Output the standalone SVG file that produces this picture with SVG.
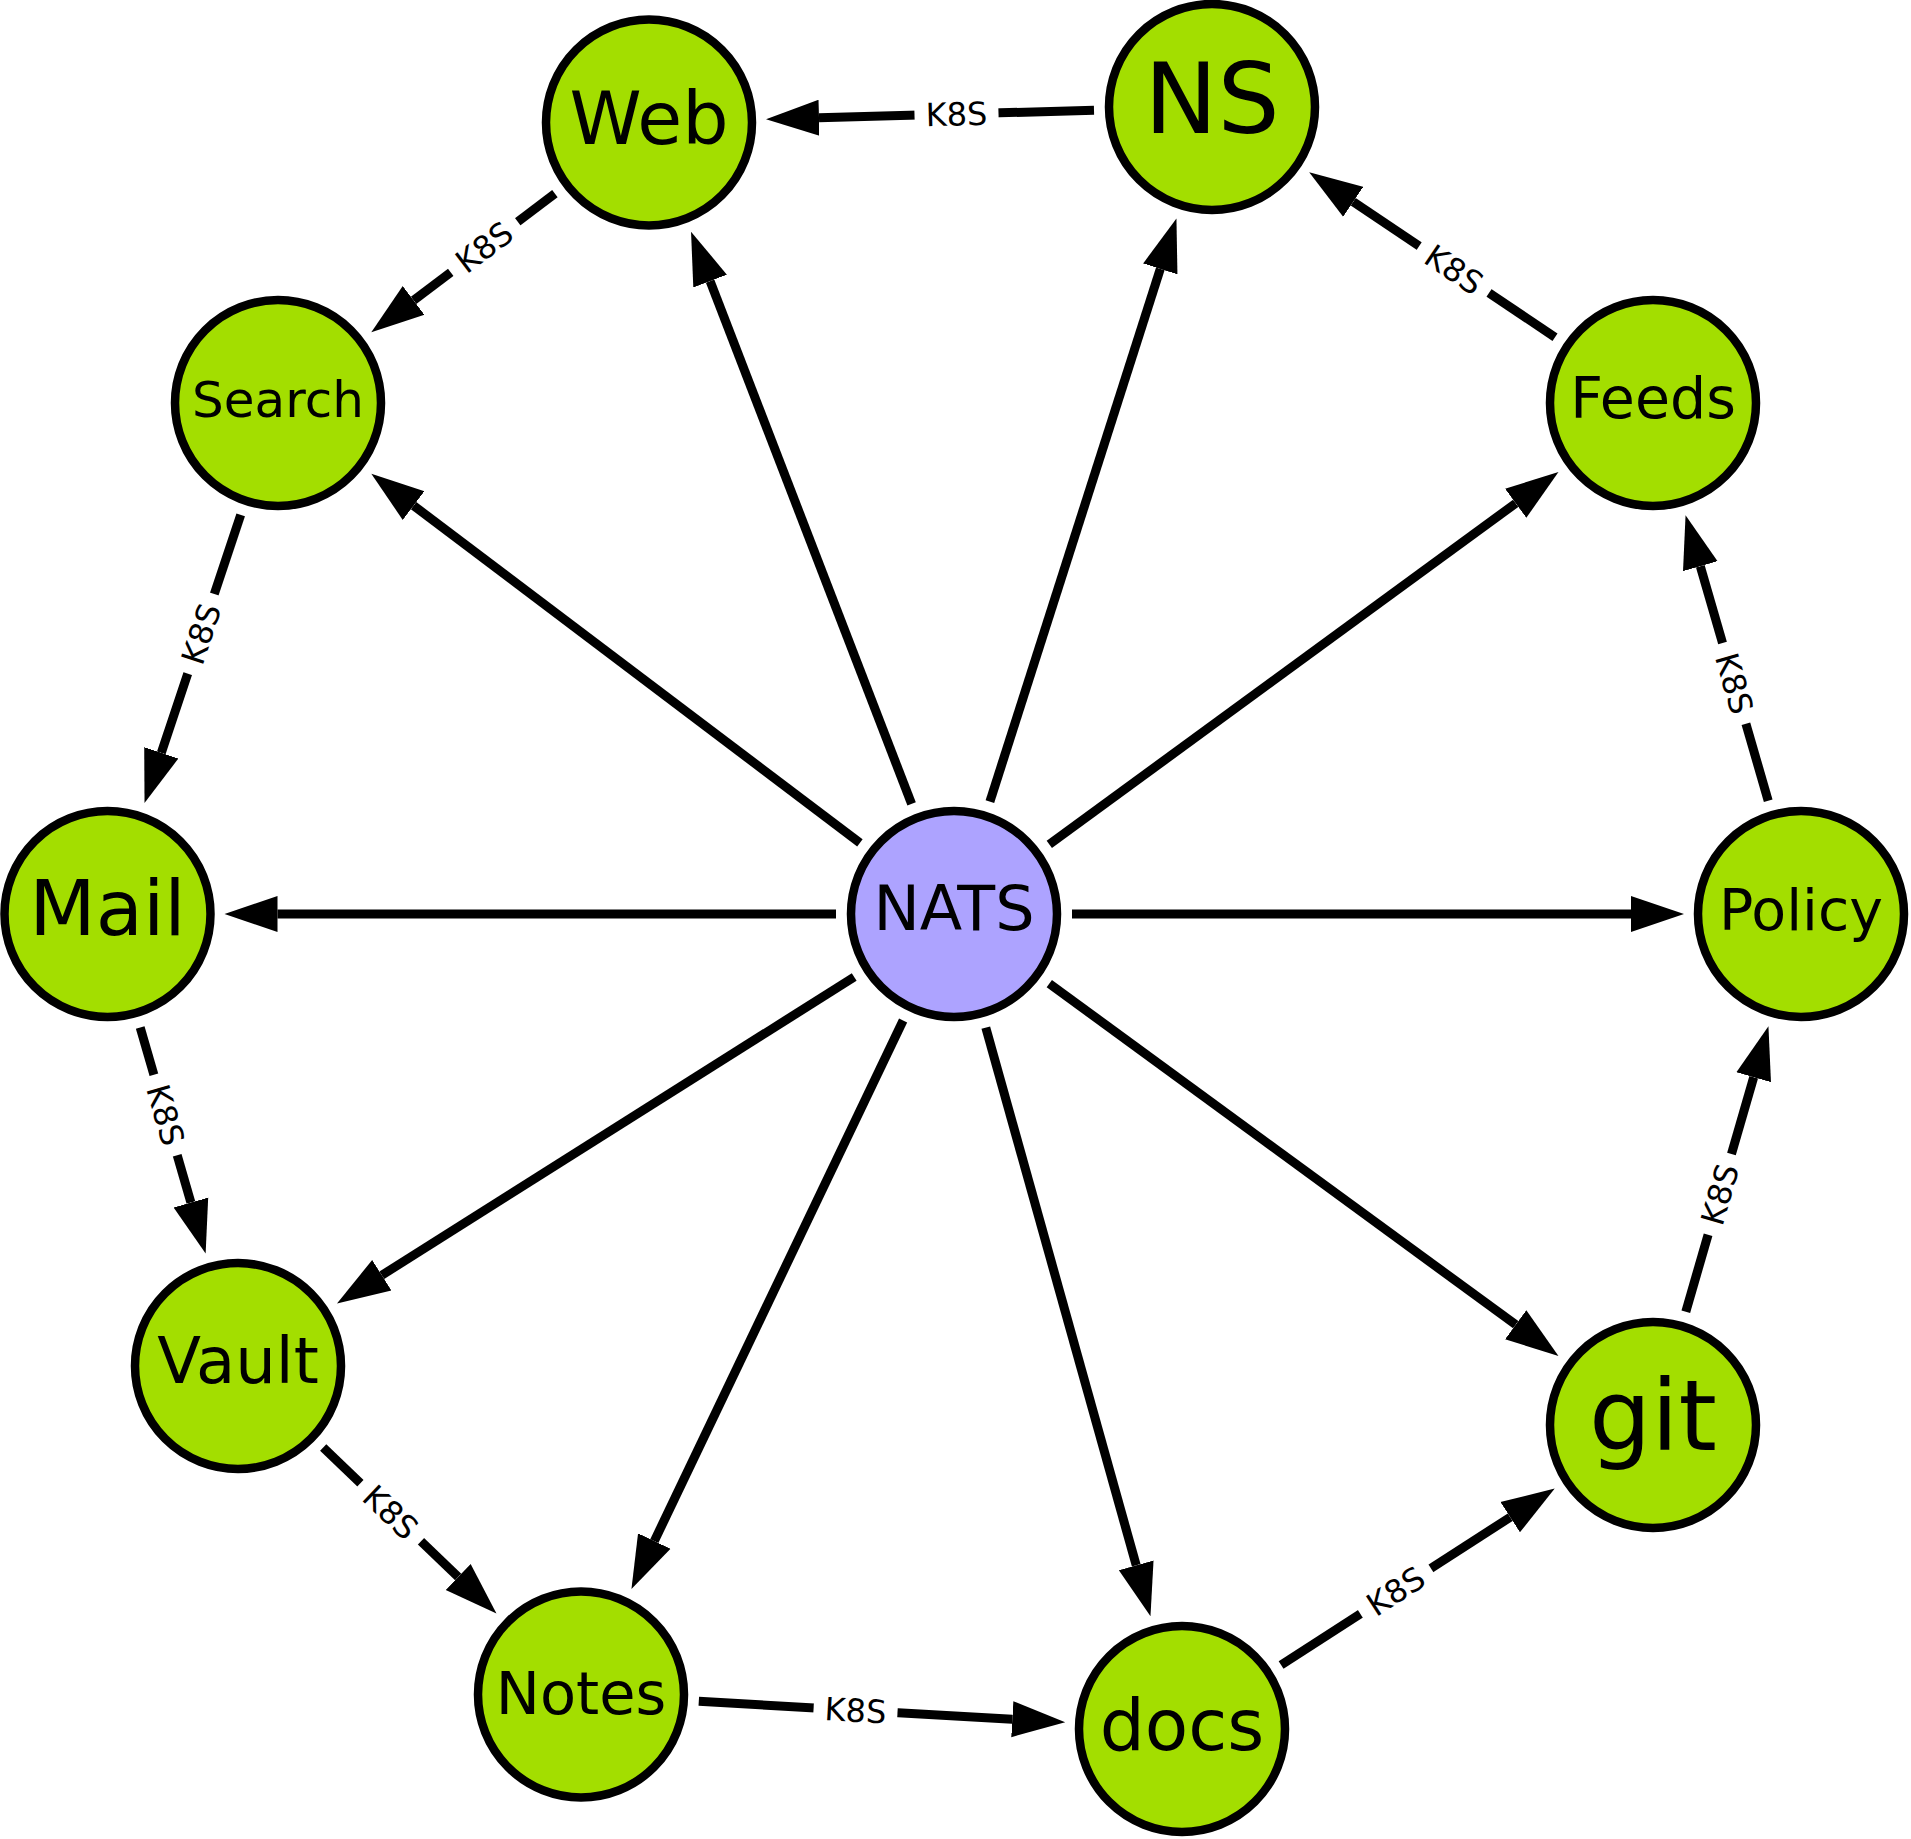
<svg xmlns="http://www.w3.org/2000/svg" width="1911" height="1839" viewBox="0 0 1911 1839">
<style>
.node circle{stroke:#000;stroke-width:8.5}
.g circle{fill:#a3de00}
.hub circle{fill:#ada3ff}
.node text{font-family:"DejaVu Sans",sans-serif;text-anchor:middle;fill:#000}
.edge line{stroke:#000;stroke-width:9;marker-end:url(#ah)}
.lbl rect{fill:#fff}
.lbl text{font-family:"DejaVu Sans",sans-serif;font-size:32px;text-anchor:middle;fill:#000}
</style>
<defs>
<marker id="ah" viewBox="0 -19 54 38" markerWidth="54" markerHeight="38" refX="0" refY="0" orient="auto" markerUnits="userSpaceOnUse">
<path d="M0,-18 L53,0 L0,18 z" fill="#000"/>
</marker>
</defs>
<rect width="1911" height="1839" fill="#fff"/>
<g id="connectors">
<g class="edge">
<line x1="911.6" y1="803.9" x2="710.1" y2="281.1"/>
<line x1="989.9" y1="801.6" x2="1160.3" y2="268.9"/>
<line x1="859.9" y1="842.8" x2="413.6" y2="505.6"/>
<line x1="1049.3" y1="844.4" x2="1515.7" y2="503.3"/>
<line x1="836" y1="914" x2="277.5" y2="914"/>
<line x1="1072" y1="914" x2="1631" y2="914"/>
<line x1="854.2" y1="977" x2="381.8" y2="1275.2"/>
<line x1="903.1" y1="1020.5" x2="654.3" y2="1541.1"/>
<line x1="985.8" y1="1027.6" x2="1136.2" y2="1565.3"/>
<line x1="1049.3" y1="983.6" x2="1515.7" y2="1324.7"/>
<line x1="1094" y1="110.25" x2="819" y2="117.8"/>
<line x1="554.9" y1="193.7" x2="413.6" y2="300.4"/>
<line x1="240.7" y1="514.9" x2="161.3" y2="752.8"/>
<line x1="140.2" y1="1027.4" x2="190.9" y2="1202.6"/>
<line x1="323.2" y1="1447.6" x2="458.2" y2="1576.9"/>
<line x1="698.8" y1="1701.3" x2="1012.3" y2="1719.2"/>
<line x1="1281.1" y1="1665" x2="1510.2" y2="1517.2"/>
<line x1="1685.8" y1="1311.7" x2="1753.7" y2="1077.2"/>
<line x1="1768.2" y1="800.7" x2="1700.3" y2="566.2"/>
<line x1="1555" y1="337.2" x2="1353.2" y2="201.8"/>
</g>
<g class="lbl" transform="translate(956.5,114) rotate(-1.58)"><rect x="-42" y="-9" width="84" height="18"/><text y="11.5">K8S</text></g>
<g class="lbl" transform="translate(484.25,247.05) rotate(-37.1)"><rect x="-42" y="-9" width="84" height="18"/><text y="11.5">K8S</text></g>
<g class="lbl" transform="translate(201,633.85) rotate(-71.55)"><rect x="-42" y="-9" width="84" height="18"/><text y="11.5">K8S</text></g>
<g class="lbl" transform="translate(165.55,1115) rotate(73.9)"><rect x="-42" y="-9" width="84" height="18"/><text y="11.5">K8S</text></g>
<g class="lbl" transform="translate(390.7,1512.25) rotate(43.76)"><rect x="-42" y="-9" width="84" height="18"/><text y="11.5">K8S</text></g>
<g class="lbl" transform="translate(855.55,1710.25) rotate(3.28)"><rect x="-42" y="-9" width="84" height="18"/><text y="11.5">K8S</text></g>
<g class="lbl" transform="translate(1395.65,1591.1) rotate(-32.84)"><rect x="-42" y="-9" width="84" height="18"/><text y="11.5">K8S</text></g>
<g class="lbl" transform="translate(1719.75,1194.45) rotate(-73.85)"><rect x="-42" y="-9" width="84" height="18"/><text y="11.5">K8S</text></g>
<g class="lbl" transform="translate(1734.25,683.45) rotate(73.85)"><rect x="-42" y="-9" width="84" height="18"/><text y="11.5">K8S</text></g>
<g class="lbl" transform="translate(1454.1,269.5) rotate(33.87)"><rect x="-42" y="-9" width="84" height="18"/><text y="11.5">K8S</text></g>
</g>
<g id="node-nats" class="node hub"><circle cx="954" cy="914" r="103"/><text x="954" y="930" font-size="62">NATS</text></g>
<g id="node-web" class="node g"><circle cx="649" cy="122.5" r="103"/><text x="649" y="144" font-size="73">Web</text></g>
<g id="node-ns" class="node g"><circle cx="1212" cy="107" r="103"/><text x="1212" y="133" font-size="98">NS</text></g>
<g id="node-search" class="node g"><circle cx="278" cy="403" r="103"/><text x="278" y="416.5" font-size="50">Search</text></g>
<g id="node-feeds" class="node g"><circle cx="1653" cy="403" r="103"/><text x="1653" y="418" font-size="57">Feeds</text></g>
<g id="node-mail" class="node g"><circle cx="107.5" cy="914" r="103"/><text x="107.5" y="935" font-size="77">Mail</text></g>
<g id="node-policy" class="node g"><circle cx="1801" cy="914" r="103"/><text x="1801" y="930" font-size="57">Policy</text></g>
<g id="node-vault" class="node g"><circle cx="238" cy="1366" r="103"/><text x="238" y="1383" font-size="64">Vault</text></g>
<g id="node-git" class="node g"><circle cx="1653" cy="1425" r="103"/><text x="1653" y="1450" font-size="98">git</text></g>
<g id="node-notes" class="node g"><circle cx="581" cy="1694.5" r="103"/><text x="581" y="1713.5" font-size="59">Notes</text></g>
<g id="node-docs" class="node g"><circle cx="1182" cy="1729" r="103"/><text x="1182" y="1750" font-size="71">docs</text></g>
</svg>
